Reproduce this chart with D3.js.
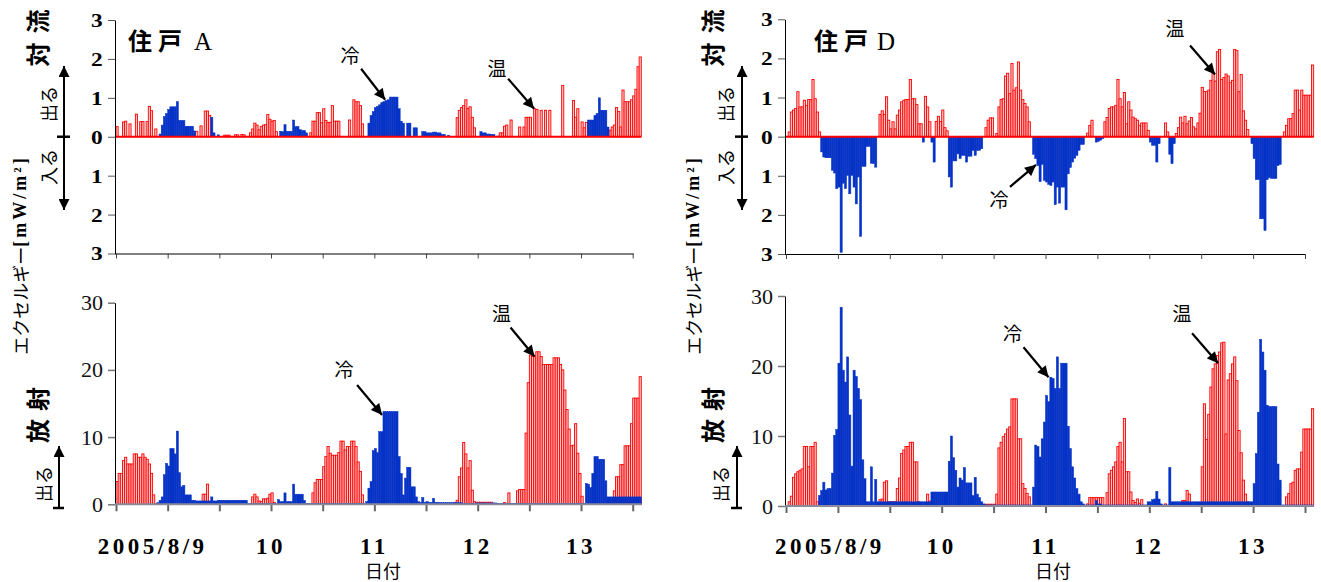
<!DOCTYPE html>
<html>
<head>
<meta charset="utf-8">
<script src="https://cdn.jsdelivr.net/npm/d3@7"></script>
<style>
  body { margin: 0; background: #fff; }
  svg { display: block; }
  .jp { font-family: "Noto Sans CJK JP", sans-serif; }
  .num { font-family: "Liberation Serif", serif; }
</style>
</head>
<body>
<svg width="1321" height="582"></svg>
<script>
// half-hour values, 2005/8/9 00:00 onward (244 bars per series)
// 住戸A 対流: 温 (red) and 冷 (blue), both "出る"
const aConvW = [
  .26,0,0,.38,.40,0,.33,0,0,.58,0,.39,.39,0,.39,.78,.67,0,.2,0,0,0,0,0,
  0,0,0,0,0,0,0,0,0,0,0,0,0,.14,0,.28,0,.66,.66,.55,0,0,0,0,
  0,0,.04,.04,.04,0,0,.05,.05,0,.06,.05,0,0,.1,.2,.35,.3,.18,.26,.3,.31,.57,.45,
  .4,.42,.13,0,0,0,0,0,0,0,0,0,0,0,0,0,0,0,.1,.4,.4,.62,.62,.36,
  .72,.42,.37,.37,.8,.4,.4,.4,0,0,0,0,.43,0,.95,.9,.9,.8,.33,0,0,0,0,0,
  0,0,0,0,0,0,0,0,0,0,0,0,0,0,0,0,0,0,0,0,0,0,0,0,
  0,0,0,0,0,0,0,0,0,0,0,0,0,0,.49,.68,.75,.8,.95,.73,.77,.5,.23,0,
  0,0,0,0,0,0,0,0,0,0,.1,.1,.27,.3,0,.43,0,0,0,.25,0,.25,.5,.5,
  .5,0,.72,.7,0,.68,0,.68,0,.68,0,0,0,0,0,1.32,0,0,0,0,.93,.5,.72,0,
  .38,.23,.37,0,0,0,0,0,0,0,0,0,0,.17,.25,.3,.75,.65,.25,1.2,.9,.9,.9,.95,
  1.05,1.22,1.8,2.05
];
const aConvC = [
  0,0,0,0,0,0,0,0,0,0,0,0,0,0,0,0,0,0,0,0,.07,.3,.52,.6,
  .7,.77,.77,.77,.9,.42,.42,.42,.27,.27,.27,.27,.15,0,0,0,0,0,0,0,.5,.1,0,.05,
  0,0,0,0,0,0,0,0,0,0,0,0,0,0,0,0,0,0,0,0,0,0,0,0,
  0,0,0,0,.14,.13,.31,.14,.14,.14,.43,.26,.26,.18,.16,.16,.1,0,0,0,0,0,0,0,
  0,0,0,0,0,0,0,0,0,0,0,0,0,0,0,0,0,0,0,0,0,.35,.55,.65,
  .75,.78,.82,.88,.9,.93,.95,1.02,1.02,1.02,1.02,.72,.4,.35,0,.35,.35,0,.23,.23,0,0,.13,.13,
  .1,.1,.1,.12,.12,.1,.1,.06,.06,0,.04,0,0,0,0,0,0,0,0,0,0,0,0,0,
  0,.13,.1,.1,.07,.07,.06,.06,0,.02,0,0,0,0,0,0,0,0,0,0,0,0,0,0,
  0,0,0,0,0,0,0,0,0,0,0,0,0,0,0,0,0,0,0,0,0,0,0,0,
  0,0,0,.43,.43,.43,.55,.6,1.0,.68,.68,.68,.25,0,0,0,0,0,0,0,0,0,0,0,
  0,0,0,0
];
// 住戸A 放射
const aRadW = [
  3.4,4.6,4.6,6.5,7.0,6.0,6.0,6.0,7.5,7.5,7.0,7.0,7.5,7.0,6.7,6.0,4.6,1.4,.1,0,0,0,0,0,
  0,0,0,0,0,0,0,0,0,0,0,0,0,0,0,0,1.5,1.5,3.0,0,0,0,0,0,
  0,0,0,0,0,0,0,0,0,0,0,0,0,0,0,1.1,1.5,1.1,.5,.4,.8,.8,.9,1.5,
  1.7,.3,0,0,0,0,0,0,0,0,0,0,0,0,0,0,0,0,0,1.7,3.2,3.7,3.7,3.7,
  5.6,7.1,8.6,7.6,7.3,7.3,7.3,7.7,9.4,9.4,8.1,8.6,8.6,9.4,9.4,8.6,6.3,4.9,1.4,0,0,0,0,0,
  0,0,0,0,0,0,0,0,0,0,0,0,0,0,0,0,0,0,0,0,0,0,0,0,
  0,0,0,0,0,0,0,0,0,0,0,0,0,.25,.6,4.1,5.4,9.2,7.5,5.4,6.5,2.1,.4,.3,
  .3,.3,.3,.3,.3,.3,.3,0,0,0,0,0,.25,0,1.7,0,0,0,2.0,2.2,2.2,2.2,10.6,18.1,
  22.2,22.0,22.0,22.7,22.7,22.0,20.8,20.8,20.8,20.8,20.8,21.8,21.8,21.8,20.8,20.0,17.0,14.1,11.2,8.7,8.8,12.0,7.6,4.6,
  1.2,0,0,0,0,0,0,0,0,0,0,0,0,0,0,2.0,4.1,4.1,5.9,5.9,8.7,8.7,8.7,12.0,
  15.8,15.8,15.8,19.0
];
const aRadC = [
  0,0,0,0,0,0,0,0,0,0,0,0,0,0,0,0,0,0,0,.25,.6,1.1,4.4,6.1,
  5.7,8.3,8.3,7.5,10.9,4.7,2.6,2.8,1.4,1.4,1.4,.6,.6,.5,.5,.5,.5,.5,.5,.5,1.1,.5,.5,.6,
  .6,.6,.6,.6,.6,.6,.6,.6,.6,.6,.6,.6,.6,.1,.1,.1,.1,.1,.1,.1,.1,.1,.1,.1,
  .1,.1,.1,.7,.4,.4,1.7,.4,.4,.4,3.0,1.5,1.5,1.5,1.5,.6,.15,.15,.15,.15,.15,.15,.15,.15,
  .15,.15,.15,.15,.15,.15,.15,.15,.15,.15,.15,.15,.15,.15,.15,.15,.15,.15,.15,.15,.4,2.4,3.4,8.0,
  8.3,7.7,10.8,10.8,13.8,13.8,13.8,13.8,13.8,13.8,13.8,7.1,4.6,1.4,3.9,5.5,5.5,2.6,2.6,1.1,.4,.3,1.0,.3,
  .4,.3,.3,.9,.3,.3,.25,.25,.25,.25,.25,.25,.25,.25,.25,.25,.25,.15,.15,.15,.15,.15,.15,.2,
  .2,.2,.2,.2,.2,.2,.2,.2,.2,.15,.15,.15,.15,.15,.15,.15,.15,.15,.15,.15,.15,.15,.15,.15,
  .15,.15,.15,.15,.15,.15,.15,.15,.15,.15,.15,.15,.15,.15,.15,.15,.15,.15,.15,.15,.15,.15,.15,.15,
  .15,.15,3.1,3.0,2.5,4.6,7.1,7.1,6.7,6.7,6.7,3.5,1.1,1.1,1.1,1.1,1.1,1.1,1.1,1.1,1.1,1.1,1.1,1.1,
  1.1,1.1,1.1,1.1
];
// 住戸D 対流: 温 "出る" (up), 冷 "入る" (down)
const dConvW = [
  0,.12,.63,.68,.72,1.15,.76,.76,.93,.8,.95,.95,1.46,.97,.63,.12,0,0,0,0,0,0,0,0,
  0,0,0,0,0,0,0,0,0,0,0,0,0,0,0,0,0,0,0,.57,.66,.57,1.02,.42,
  .2,.38,.2,.55,.68,.89,.93,.95,.95,1.46,.97,.97,.82,.33,.33,0,1.03,.76,.38,0,0,.39,.52,.39,
  .68,.23,.15,0,0,0,0,0,0,0,0,0,0,0,0,0,0,0,0,0,.23,.42,.48,.48,
  0,.08,.76,.95,.97,1.55,1.62,1.1,1.87,1.19,1.25,1.91,1.19,.95,.85,.76,.38,0,0,0,0,0,0,0,
  0,0,0,0,0,0,0,0,0,0,0,0,0,0,0,0,0,0,0,.09,.29,.42,0,0,
  0,0,0,.38,.49,.72,.76,.76,.8,1.46,.97,.76,1.13,.33,.89,.68,.5,.46,.42,.29,.35,.35,.35,.16,
  0,0,0,0,0,0,0,.35,.12,0,0,0,.08,.23,.5,.35,.52,.33,.4,.49,.25,.2,.35,.6,
  1.26,1.15,1.15,1.19,1.44,1.62,1.42,2.17,2.23,1.46,1.51,1.6,1.55,1.38,1.44,2.23,2.2,1.15,1.59,.66,.42,.18,0,0,
  0,0,0,0,0,0,0,0,0,0,0,0,0,0,.12,.29,.46,.46,.59,1.19,1.19,.68,1.19,1.06,
  1.06,1.06,1.06,1.83
];
const dConvC = [
  0,0,0,0,0,0,0,0,0,0,0,0,0,0,0,0,.39,.52,.54,.54,.54,.86,.93,1.33,
  1.29,2.96,1.19,1.33,.99,1.46,.99,1.29,1.72,1.03,2.55,.76,.76,.25,.25,.68,.69,.78,0,0,0,0,0,0,
  0,0,0,0,0,0,0,0,0,0,0,0,0,0,0,.14,0,0,0,.14,.65,0,0,0,
  0,0,0,1.03,1.29,.62,.62,.44,.56,.48,.48,.65,.5,.5,.35,.48,.35,.35,.31,0,0,0,0,0,
  0,0,0,0,0,0,0,0,0,0,0,0,0,0,0,0,0,0,.45,.56,.74,1.15,.71,1.12,
  1.16,1.22,1.25,1.16,1.74,1.29,1.7,1.29,1.29,1.87,.95,.79,.65,.55,.48,.35,.2,.2,0,0,0,0,0,.14,
  .12,.09,.05,0,0,0,0,0,0,0,0,0,0,0,0,0,0,0,0,0,0,0,0,0,
  .14,.22,.22,.65,.18,0,0,0,0,.45,.69,.18,0,0,0,0,0,0,0,0,0,0,0,0,
  0,0,0,0,0,0,0,0,0,0,0,0,0,0,0,0,0,0,0,0,0,0,0,.18,
  .56,1.1,1.1,2.1,2.1,2.4,1.1,1.05,1.07,1.07,1.07,.74,.71,0,0,0,0,0,0,0,0,0,0,0,
  0,0,0,0
];
// 住戸D 放射
const dRadW = [
  0,.6,1.4,4.1,4.6,4.9,5.1,5.3,8.5,8.5,5.6,8.5,8.5,9.1,.6,0,0,0,0,0,0,0,0,0,
  0,0,0,0,0,0,0,0,0,0,0,0,0,0,0,0,0,0,0,.9,1.0,3.4,3.6,.6,
  .6,.6,.6,2.5,4.0,7.5,8.0,8.5,8.5,9.1,9.1,6.3,6.3,.6,0,0,0,1.7,.7,0,0,0,0,0,
  0,0,0,0,0,0,0,0,0,0,0,0,0,0,0,0,0,0,0,0,.25,.25,.25,.25,
  .25,1.7,8.3,9.1,9.9,10.3,11.0,11.3,15.3,15.3,15.3,9.6,9.6,3.2,2.5,1.8,1.3,0,0,0,0,0,0,0,
  0,0,0,0,0,0,0,0,0,0,0,0,0,0,0,0,0,0,0,.3,1.2,1.2,1.2,1.2,
  1.2,1.2,1.2,0,1.9,4.6,5.1,5.6,6.3,8.5,9.1,6.3,12.5,4.9,4.9,2.0,.8,.5,1.0,.4,.9,0,0,0,
  0,0,0,0,0,0,0,.3,0,0,0,0,0,0,0,.8,.8,2.2,1.7,0,0,0,0,0,
  5.6,14.6,9.5,13.1,17.0,19.6,20.3,21.5,22.0,23.3,23.4,10.3,18.0,18.9,20.3,21.3,17.9,10.8,7.6,3.7,1.7,.6,0,0,
  0,0,0,0,0,0,0,0,0,0,0,0,0,0,0,1.3,1.8,3.2,3.4,5.1,5.3,5.3,7.7,11.0,
  11.0,11.0,11.0,13.9
];
const dRadC = [
  0,0,0,0,0,0,0,0,0,0,0,0,0,0,0,1.5,2.2,3.4,2.3,2.5,2.5,4.7,10.1,10.9,
  20.4,28.4,19.4,17.7,21.3,13.0,5.7,19.4,18.5,16.8,15.2,6.6,3.9,.6,.6,5.6,.6,3.8,.6,.6,.6,.6,.6,.6,
  .6,.6,.6,.6,.6,.6,.6,.6,.6,.6,.6,.6,.6,.6,.6,.6,.6,.6,.6,2.0,2.0,2.0,2.0,2.0,
  2.0,2.0,2.0,6.4,10.0,6.9,5.1,2.7,4.0,3.7,5.5,3.3,3.3,3.3,1.5,4.1,1.7,1.2,.6,.3,.15,.15,.15,.15,
  .15,.15,.15,.15,.15,.15,.15,.15,.15,.15,.15,.15,.15,.15,.15,.15,.15,.15,2.7,8.7,8.5,7.0,9.6,12.0,
  15.8,14.9,18.4,18.2,16.8,21.3,16.8,20.4,20.4,20.4,11.4,8.2,5.6,4.0,2.5,1.7,.6,.3,.15,.15,.15,.15,.15,.8,
  .3,.3,.15,.15,.15,.15,.15,.15,.15,.15,.15,.15,.15,.15,.15,.15,.15,.15,.15,.15,.15,.15,.15,.6,
  .6,.9,1.0,2.1,1.0,.3,.15,.15,.15,5.5,.6,.6,.6,.6,.6,.6,.6,.6,.6,.6,.6,.6,.6,.6,
  .6,.6,.6,.6,.6,.6,.6,.6,.6,.6,.6,.6,.6,.6,.6,.6,.6,.6,.6,.6,.6,.6,.6,.6,
  3.2,7.5,13.4,23.8,22.0,19.4,14.4,14.2,14.2,14.2,14.2,6.0,3.7,.15,.15,.15,.15,.15,.15,.15,.15,.15,.15,.15,
  .15,.15,.15,.15
];

const dayLabels = ["2005/8/9", "10", "11", "12", "13"];
const convTicks = [3, 2, 1, 0, -1, -2, -3];
const radTicks = [0, 10, 20, 30];

const start = new Date(2005, 7, 9, 0, 0);
const end = new Date(2005, 7, 14, 0, 0);
const slot = i => d3.timeMinute.offset(start, i * 30);

const RED = "#ff0000", PINK = "#ffc6c6", BLUE = "#0633c6";

const svg = d3.select("svg");

svg.append("defs").append("marker")
  .attr("id", "head")
  .attr("viewBox", "0 -5 10 10")
  .attr("refX", 10).attr("refY", 0)
  .attr("markerUnits", "userSpaceOnUse")
  .attr("markerWidth", 12).attr("markerHeight", 11)
  .attr("orient", "auto-start-reverse")
  .append("path").attr("d", "M0,-5L10,0L0,5Z").attr("fill", "#000");

const panels = [
  { house: "A", axisX: 115, x0: 116, x1: 632.7, convY: [253.5, 20], radY: [504.3, 302.7],
    convW: aConvW, convC: aConvC, radW: aRadW, radC: aRadC, coolDown: false,
    lab: { side: 36, inOut: 48, outB: 43, arr: 64, arrB: 59, ex: 20, hx: 128, hl: 194, day0: -15 },
    notes: [
      { k: "conv", t: "冷", h: 62.5, v: 0.95, sx: -24, sy: -31, lx: -35, ly: -45 },
      { k: "conv", t: "温", h: 97.1, v: 0.72, sx: -26, sy: -30, lx: -37, ly: -41 },
      { k: "rad", t: "冷", h: 61.8, v: 13.3, sx: -25, sy: -30, lx: -38, ly: -46 },
      { k: "rad", t: "温", h: 97.2, v: 22.0, sx: -24, sy: -29, lx: -33, ly: -44 }
    ] },
  { house: "D", axisX: 785, x0: 786, x1: 1305, convY: [254, 19.3], radY: [506, 296],
    convW: dConvW, convC: dConvC, radW: dRadW, radC: dRadC, coolDown: true,
    lab: { side: 711, inOut: 725, outB: 720, arr: 742, arrB: 737, ex: 693, hx: 814, hl: 877, day0: -8 },
    notes: [
      { k: "conv", t: "温", h: 99.2, v: 1.59, sx: -25, sy: -29, lx: -40, ly: -47 },
      { k: "conv", t: "冷", h: 57.8, v: -0.72, sx: -26, sy: 22, lx: -37, ly: 34 },
      { k: "rad", t: "冷", h: 60.7, v: 18.4, sx: -25, sy: -30, lx: -36, ly: -45 },
      { k: "rad", t: "温", h: 99.9, v: 20.4, sx: -26, sy: -30, lx: -36, ly: -51 }
    ] }
];

function drawBars(g, vals, x, y, sign, warm) {
  const bw = x(slot(1)) - x(slot(0));
  const data = vals.map((v, i) => ({ i, v })).filter(d => d.v > 0);
  g.append("g").selectAll("rect").data(data).join("rect")
    .attr("x", d => x(slot(d.i)))
    .attr("width", bw)
    .attr("y", d => Math.min(y(0), y(sign * d.v)))
    .attr("height", d => Math.abs(y(sign * d.v) - y(0)))
    .attr("fill", warm ? PINK : BLUE)
    .attr("stroke", warm ? RED : BLUE)
    .attr("stroke-width", warm ? 0.9 : 0.5);
}

function vText(g, txt, x, y, size, weight, ls) {
  g.append("text").attr("class", "jp")
    .attr("transform", `translate(${x},${y}) rotate(-90)`)
    .attr("text-anchor", "middle").attr("dominant-baseline", "central")
    .attr("font-size", size).attr("font-weight", weight)
    .attr("letter-spacing", ls).attr("dx", ls / 2)
    .text(txt);
}

panels.forEach(p => {
  const g = svg.append("g");
  const x = d3.scaleTime().domain([start, end]).range([p.x0, p.x1]);
  const yc = d3.scaleLinear().domain([-3, 3]).range(p.convY);
  const yr = d3.scaleLinear().domain([0, 30]).range(p.radY);
  const xEnd = x(slot(aConvW.length));

  // convection panel
  drawBars(g, p.convW, x, yc, 1, true);
  drawBars(g, p.convC, x, yc, p.coolDown ? -1 : 1, false);
  g.append("line").attr("x1", p.x0).attr("x2", xEnd)
    .attr("y1", yc(0)).attr("y2", yc(0))
    .attr("stroke", RED).attr("stroke-width", 2);

  const ya = g.append("g").attr("transform", `translate(${p.axisX},0)`)
    .call(d3.axisLeft(yc).tickValues(convTicks).tickSize(7).tickSizeOuter(0)
      .tickFormat(d => Math.abs(d)));
  ya.selectAll("text").attr("class", "num").attr("font-size", 18).attr("font-weight", "bold")
    .attr("fill", "#000").attr("x", -9.5).attr("dy", "0.36em").attr("transform", "scale(1.3,1)");
  ya.selectAll(".tick line").attr("stroke", "#555");

  const xa = g.append("g").attr("transform", `translate(0,${p.convY[0]})`)
    .call(d3.axisBottom(x).ticks(d3.timeHour.every(12)).tickSize(5).tickSizeOuter(0)
      .tickFormat(() => ""));
  xa.select(".domain").attr("d", `M${p.axisX},0.5H${p.x1 + 1}`);
  xa.selectAll(".tick line").attr("stroke", "#444");

  // radiation panel
  drawBars(g, p.radW, x, yr, 1, true);
  drawBars(g, p.radC, x, yr, 1, false);

  const yb = g.append("g").attr("transform", `translate(${p.axisX},0)`)
    .call(d3.axisLeft(yr).tickValues(radTicks).tickSize(7).tickSizeOuter(0));
  yb.selectAll("text").attr("class", "num").attr("font-size", 22)
    .attr("fill", "#111").attr("x", -12);
  yb.selectAll(".tick line").attr("stroke", "#777").attr("stroke-width", 1.5);

  const xb = g.append("g").attr("transform", `translate(0,${p.radY[0]})`)
    .call(d3.axisBottom(x).ticks(d3.timeHour.every(12)).tickSize(7).tickSizeOuter(0)
      .tickFormat(() => ""));
  xb.select(".domain").remove();
  xb.selectAll(".tick line").attr("stroke", "#666").attr("stroke-width", 2);
  g.append("line").attr("x1", p.axisX).attr("x2", xEnd)
    .attr("y1", p.radY[0]).attr("y2", p.radY[0])
    .attr("stroke", "#8a8a9a").attr("stroke-width", 2);

  // day labels
  g.append("g").selectAll("text").data(dayLabels).join("text")
    .attr("class", "num")
    .attr("x", (d, i) => x(d3.timeHour.offset(start, 24 * i + 12)) + (i === 0 ? p.lab.day0 : 0))
    .attr("y", 554)
    .attr("text-anchor", "middle")
    .attr("font-size", 23).attr("font-weight", "bold").attr("letter-spacing", 3.5)
    .text(d => d);
  g.append("text").attr("class", "jp")
    .attr("x", p.x0 + 267).attr("y", 578).attr("text-anchor", "middle")
    .attr("font-size", 18).text("日付");

  // house title
  g.append("text").attr("class", "jp")
    .attr("x", p.lab.hx).attr("y", 50)
    .attr("font-size", 24).attr("font-weight", "bold").attr("letter-spacing", 6)
    .text("住戸");
  g.append("text").attr("class", "num")
    .attr("x", p.lab.hl).attr("y", 50)
    .attr("font-size", 25)
    .text(p.house);

  // side labels
  vText(g, "対流", p.lab.side, 38, 24, "bold", 9);
  vText(g, "放射", p.lab.side, 415, 24, "bold", 8);
  vText(g, "出る", p.lab.inOut, 104, 18, "normal", 0);
  vText(g, "入る", p.lab.inOut, 167, 18, "normal", 0);
  vText(g, "出る", p.lab.outB, 484, 18, "normal", 0);

  const ex = g.append("text")
    .attr("transform", `translate(${p.lab.ex},255) rotate(-90)`)
    .attr("text-anchor", "middle").attr("dominant-baseline", "central");
  ex.append("tspan").attr("class", "jp").attr("font-size", 18).text("エクセルギー");
  ex.append("tspan").attr("class", "num").attr("font-size", 18).attr("font-weight", "bold")
    .attr("letter-spacing", 3).text("[mW/m²]");

  // in / out arrows
  g.append("line").attr("x1", p.lab.arr).attr("x2", p.lab.arr)
    .attr("y1", 66).attr("y2", 210)
    .attr("stroke", "#000").attr("stroke-width", 2)
    .attr("marker-start", "url(#head)").attr("marker-end", "url(#head)");
  g.append("line").attr("x1", p.lab.arr - 7).attr("x2", p.lab.arr + 6)
    .attr("y1", yc(0)).attr("y2", yc(0))
    .attr("stroke", "#000").attr("stroke-width", 2.5);
  g.append("line").attr("x1", p.lab.arrB).attr("x2", p.lab.arrB)
    .attr("y1", 508).attr("y2", 446)
    .attr("stroke", "#000").attr("stroke-width", 2)
    .attr("marker-end", "url(#head)");
  g.append("line").attr("x1", p.lab.arrB - 6).attr("x2", p.lab.arrB + 5)
    .attr("y1", 508).attr("y2", 508)
    .attr("stroke", "#000").attr("stroke-width", 2.5);

  // 冷 / 温 notes
  p.notes.forEach(n => {
    const y = n.k === "conv" ? yc : yr;
    const tx = x(d3.timeMinute.offset(start, n.h * 60)), ty = y(n.v);
    g.append("line")
      .attr("x1", tx + n.sx).attr("y1", ty + n.sy)
      .attr("x2", tx).attr("y2", ty)
      .attr("stroke", "#000").attr("stroke-width", 2.2)
      .attr("marker-end", "url(#head)");
    g.append("text").attr("class", "jp")
      .attr("x", tx + n.lx).attr("y", ty + n.ly)
      .attr("text-anchor", "middle").attr("dominant-baseline", "central")
      .attr("font-size", 19).text(n.t);
  });

  g.selectAll(".domain").attr("stroke", "#000");
});
</script>
</body>
</html>
